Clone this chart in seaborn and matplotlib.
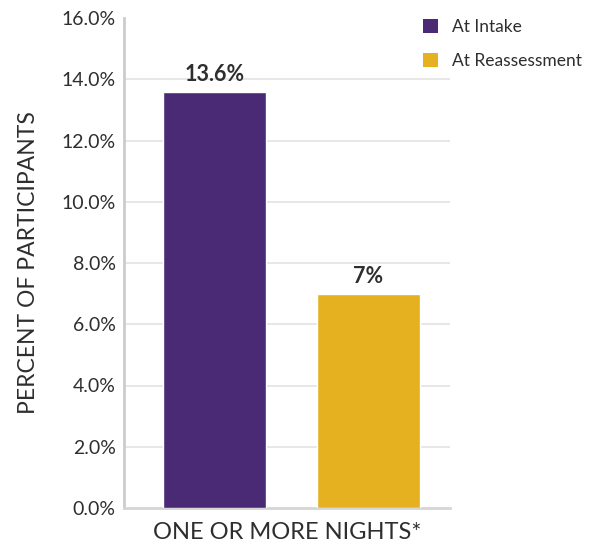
import matplotlib
matplotlib.use("Agg")
import matplotlib.pyplot as plt
import seaborn as sns
import pandas as pd
from matplotlib.ticker import FuncFormatter
from matplotlib.patches import Patch

categories = ["ONE OR MORE NIGHTS*"]
series = ["At Intake", "At Reassessment"]
values_intake = [13.6]
values_reassess = [7.0]
value_labels = ["13.6%", "7%"]
y_ticks = [0, 2, 4, 6, 8, 10, 12, 14, 16]

colors = {"At Intake": "#4B2A75", "At Reassessment": "#E5B121"}

df = pd.DataFrame({
    "category": categories * 2,
    "series": [series[0]] * len(values_intake) + [series[1]] * len(values_reassess),
    "value": values_intake + values_reassess,
})

sns.set_style("white")
plt.rcParams["font.family"] = ["Lato", "DejaVu Sans"]
text_color = "#2e2e2e"

fig = plt.figure(figsize=(5.95, 5.48), dpi=100)
ax = fig.add_axes([124 / 595, 40 / 548, 326 / 595, 490 / 548])

sns.barplot(data=df, x="category", y="value", hue="series", palette=colors,
            width=0.8, gap=0.33, saturation=1, ax=ax, legend=False, zorder=3)

ax.set_ylim(0, 16)
ax.set_xlim(-0.4355, 0.413)
ax.set_yticks(y_ticks)
ax.yaxis.set_major_formatter(FuncFormatter(lambda v, p: f"{v:.1f}%"))
ax.tick_params(axis="y", labelsize=14, colors=text_color, length=0, pad=6)
ax.tick_params(axis="x", length=0)
ax.set_xticks([])

for y in y_ticks[1:-1]:
    ax.axhline(y, color="#e3e3e3", lw=1.2, zorder=0)

for s in ["top", "right"]:
    ax.spines[s].set_visible(False)
ax.spines["left"].set_color("#cccccc")
ax.spines["left"].set_linewidth(2)
ax.spines["bottom"].set_color("#d5d5d5")
ax.spines["bottom"].set_linewidth(2)

for container, lab in zip(ax.containers, value_labels):
    ax.bar_label(container, labels=[lab], padding=5, fontsize=15.5,
                 fontweight="bold", color=text_color)

ax.set_ylabel("PERCENT OF PARTICIPANTS", fontsize=16.5, color=text_color, labelpad=16)
ax.set_xlabel(categories[0], fontsize=17, color=text_color, labelpad=10)

handles = [Patch(facecolor=colors[s], edgecolor="none", label=s) for s in series]
fig.legend(handles=handles, loc="upper left", bbox_to_anchor=(423 / 595, 1 - 19 / 548),
           frameon=False, fontsize=12.5, handlelength=0.85, handleheight=0.85,
           handletextpad=0.8, labelspacing=1.05, labelcolor=text_color,
           borderpad=0, borderaxespad=0)

fig.savefig("out.png", dpi=100)
